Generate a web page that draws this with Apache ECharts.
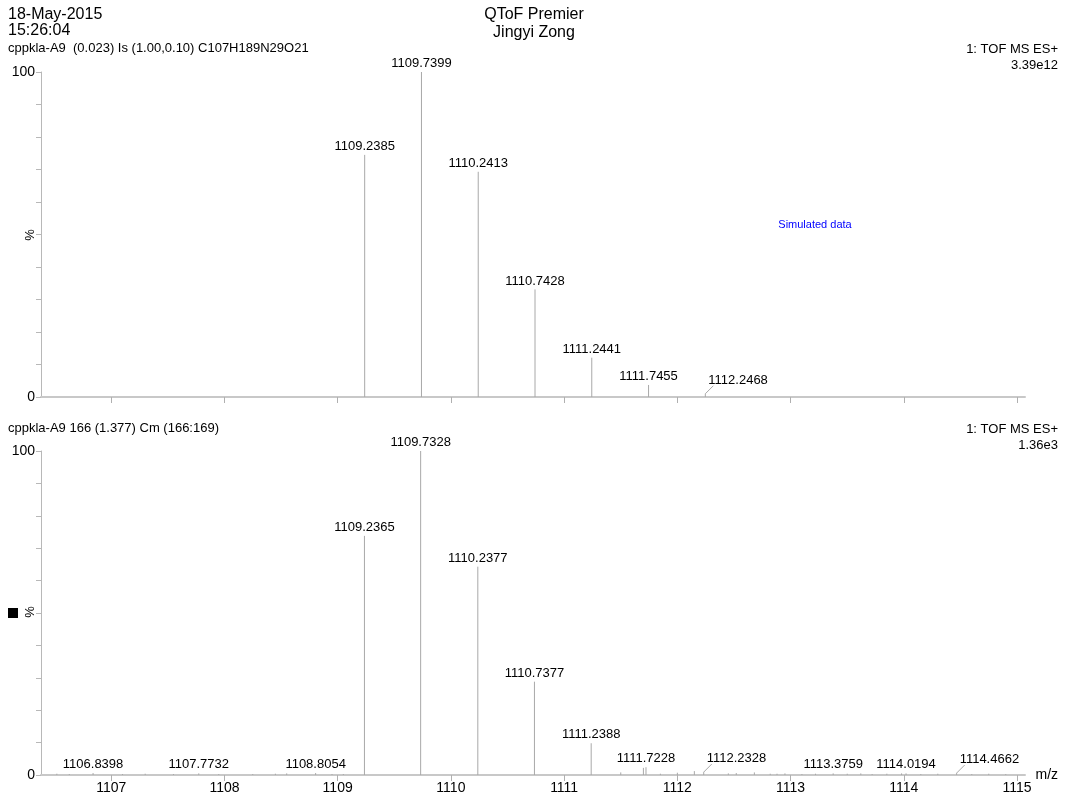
<!DOCTYPE html>
<html>
<head>
<meta charset="utf-8">
<script src="https://cdn.jsdelivr.net/npm/echarts@6/dist/echarts.min.js"></script>
<style>
html,body{margin:0;padding:0;background:#fff;}
#chart{width:1068px;height:801px;}
</style>
</head>
<body>
<div id="chart"></div>
<script>
// ---- data ----
var xTicks = [1107, 1108, 1109, 1110, 1111, 1112, 1113, 1114, 1115];
// [m/z, relative intensity %, label mode (0 = above, 1 = leader line)]
var topPeaks = [
  [1109.2385, 74.5, 0],
  [1109.7399, 100, 0],
  [1110.2413, 69.3, 0],
  [1110.7428, 33.1, 0],
  [1111.2441, 12.1, 0],
  [1111.7455, 3.7, 0],
  [1112.2468, 1.0, 1]
];
var bottomPeaks = [
  [1106.8398, 0.6, 0],
  [1107.7732, 0.5, 0],
  [1108.8054, 0.6, 0],
  [1109.2365, 73.8, 0],
  [1109.7328, 100, 0],
  [1110.2377, 64.3, 0],
  [1110.7377, 28.8, 0],
  [1111.2388, 9.8, 0],
  [1111.7228, 2.4, 0],
  [1112.2328, 0.9, 1],
  [1113.3759, 0.5, 0],
  [1114.0194, 0.5, 0],
  [1114.4662, 0.6, 1]
];
// small unlabelled noise peaks in the measured spectrum
var bottomNoise = [
  [1106.52, 0.4], [1106.63, 0.3], [1107.10, 0.3], [1107.30, 0.4], [1107.55, 0.3],
  [1107.95, 0.3], [1108.25, 0.3], [1108.45, 0.4], [1108.55, 0.5], [1108.95, 0.3],
  [1109.05, 0.3], [1111.50, 0.8], [1111.70, 2.2], [1111.85, 0.4], [1112.00, 0.7],
  [1112.15, 1.2], [1112.45, 0.5], [1112.52, 0.6], [1112.68, 0.8], [1112.82, 0.4],
  [1112.88, 0.4], [1112.95, 0.5], [1113.10, 0.3], [1113.22, 0.4], [1113.50, 0.4],
  [1113.62, 0.5], [1113.72, 0.3], [1113.85, 0.4], [1113.98, 0.5], [1114.15, 0.3],
  [1114.30, 0.4], [1114.60, 0.3], [1114.75, 0.4], [1114.90, 0.3]
];
var xMin = 1106.38, xMax = 1115.07;

var FONT = '"Liberation Sans", Arial, sans-serif';
var STICK = '#a8a8a8';

function stickRender(withLabel) {
  return function (params, api) {
    var mz = api.value(0), v = api.value(1), mode = api.value(2);
    var base = api.coord([mz, 0]);
    var top = api.coord([mz, v]);
    var children = [{
      type: 'line',
      shape: { x1: base[0], y1: base[1], x2: top[0], y2: top[1] },
      style: { stroke: STICK, lineWidth: 1 }
    }];
    if (withLabel) {
      var txt = mz.toFixed(4);
      if (mode === 1) {
        children.push({
          type: 'line',
          shape: { x1: top[0], y1: top[1], x2: top[0] + 8, y2: top[1] - 8 },
          style: { stroke: STICK, lineWidth: 1 }
        });
        children.push({
          type: 'text',
          style: { text: txt, x: top[0] + 3, y: top[1] - 7, align: 'left', verticalAlign: 'bottom',
                   fill: '#000', font: '13px ' + FONT }
        });
      } else {
        children.push({
          type: 'text',
          style: { text: txt, x: top[0], y: top[1] - 2, align: 'center', verticalAlign: 'bottom',
                   fill: '#000', font: '13px ' + FONT }
        });
      }
    }
    return { type: 'group', children: children };
  };
}

function xAxisCfg(idx, showLabels) {
  return {
    type: 'value', gridIndex: idx, min: xMin, max: xMax,
    name: showLabels ? 'm/z' : '', nameLocation: 'end', nameGap: 8,
    nameTextStyle: { color: '#000', fontSize: 14, fontFamily: FONT, verticalAlign: 'middle' },
    axisLine: { show: true, lineStyle: { color: '#c8c8c8', width: 2 } },
    axisTick: { show: true, customValues: xTicks, length: 6, inside: false, lineStyle: { color: '#b0b0b0' } },
    axisLabel: { show: showLabels, customValues: xTicks, color: '#000', fontSize: 14, fontFamily: FONT, margin: 6,
      formatter: function (v) { return String(v); } },
    splitLine: { show: false }
  };
}
function yAxisCfg(idx) {
  return {
    type: 'value', gridIndex: idx, min: 0, max: 100, interval: 10,
    axisLine: { show: true, lineStyle: { color: '#b8b8b8', width: 1 } },
    axisTick: { show: true, length: 5, lineStyle: { color: '#b8b8b8' } },
    axisLabel: { color: '#000', fontSize: 14, fontFamily: FONT, margin: 6,
      formatter: function (v) { return (v === 0 || v === 100) ? String(v) : ''; } },
    splitLine: { show: false }
  };
}

var chart = echarts.init(document.getElementById('chart'), null, { renderer: 'canvas' });
chart.setOption({
  animation: false,
  backgroundColor: '#fff',
  grid: [
    { left: 41, right: 43, top: 72, height: 325, containLabel: false, outerBoundsMode: 'none' },
    { left: 41, right: 43, top: 451, height: 324, containLabel: false, outerBoundsMode: 'none' }
  ],
  xAxis: [xAxisCfg(0, false), xAxisCfg(1, true)],
  yAxis: [yAxisCfg(0), yAxisCfg(1)],
  series: [
    { type: 'custom', xAxisIndex: 0, yAxisIndex: 0, data: topPeaks, renderItem: stickRender(true), clip: false, silent: true },
    { type: 'custom', xAxisIndex: 1, yAxisIndex: 1, data: bottomNoise, renderItem: stickRender(false), clip: false, silent: true },
    { type: 'custom', xAxisIndex: 1, yAxisIndex: 1, data: bottomPeaks, renderItem: stickRender(true), clip: false, silent: true }
  ],
  graphic: [
    { type: 'text', left: 8, top: 7, style: { text: '18-May-2015', fill: '#000', font: '16px ' + FONT } },
    { type: 'text', left: 8, top: 23, style: { text: '15:26:04', fill: '#000', font: '16px ' + FONT } },
    { type: 'text', left: 8, top: 42, style: { text: 'cppkla-A9  (0.023) Is (1.00,0.10) C107H189N29O21', fill: '#000', font: '13px ' + FONT } },
    { type: 'text', x: 534, y: 7, style: { text: 'QToF Premier', align: 'center', fill: '#000', font: '16px ' + FONT } },
    { type: 'text', x: 534, y: 25, style: { text: 'Jingyi Zong', align: 'center', fill: '#000', font: '16px ' + FONT } },
    { type: 'text', x: 1058, y: 43, style: { text: '1: TOF MS ES+', align: 'right', fill: '#000', font: '13px ' + FONT } },
    { type: 'text', x: 1058, y: 59, style: { text: '3.39e12', align: 'right', fill: '#000', font: '13px ' + FONT } },
    { type: 'text', x: 815, y: 219, style: { text: 'Simulated data', align: 'center', fill: '#0000ff', font: '11px ' + FONT } },
    { type: 'text', left: 8, top: 422, style: { text: 'cppkla-A9 166 (1.377) Cm (166:169)', fill: '#000', font: '13px ' + FONT } },
    { type: 'text', x: 1058, y: 423, style: { text: '1: TOF MS ES+', align: 'right', fill: '#000', font: '13px ' + FONT } },
    { type: 'text', x: 1058, y: 439, style: { text: '1.36e3', align: 'right', fill: '#000', font: '13px ' + FONT } },
    { type: 'text', x: 30, y: 235, rotation: Math.PI / 2, style: { text: '%', align: 'center', verticalAlign: 'middle', fill: '#000', font: '13px ' + FONT } },
    { type: 'text', x: 30, y: 612, rotation: Math.PI / 2, style: { text: '%', align: 'center', verticalAlign: 'middle', fill: '#000', font: '13px ' + FONT } },
    { type: 'rect', shape: { x: 8, y: 608, width: 10, height: 10 }, style: { fill: '#000' } }
  ]
});
</script>
</body>
</html>
